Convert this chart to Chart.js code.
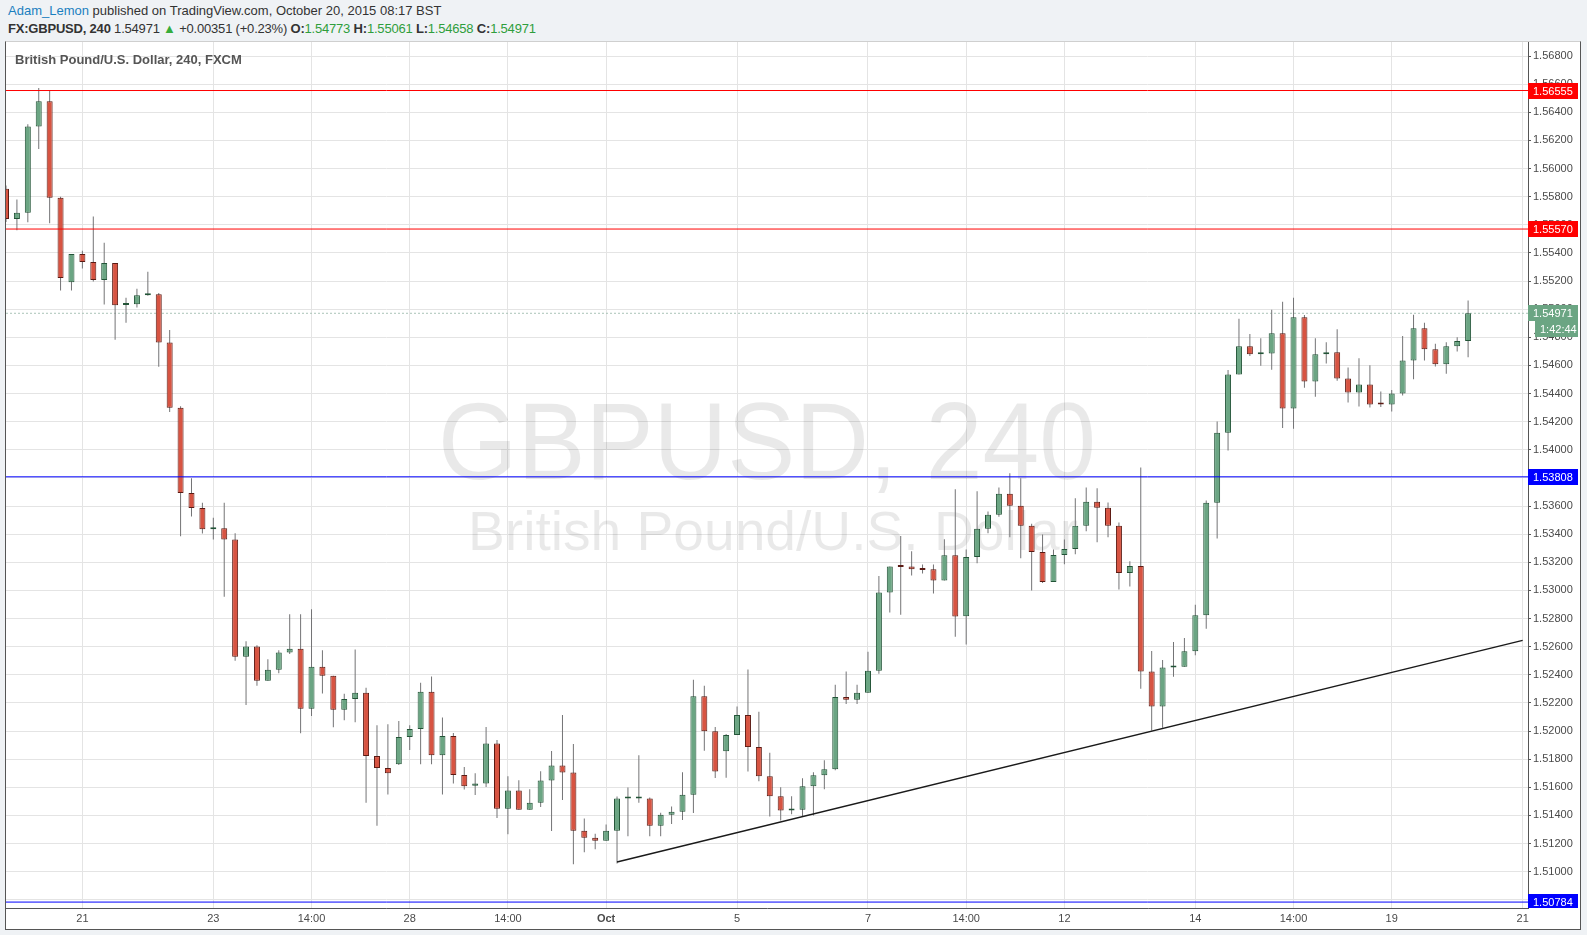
<!DOCTYPE html>
<html>
<head>
<meta charset="utf-8">
<script src="https://cdn.jsdelivr.net/npm/chart.js@4/dist/chart.umd.min.js"></script>
<style>
  html,body{margin:0;padding:0;}
  body{width:1587px;height:935px;overflow:hidden;position:relative;background:#eff2f5;font-family:"Liberation Sans",Arial,sans-serif;}
  .hdr{position:absolute;left:8px;font-size:13px;line-height:16px;color:#333;white-space:nowrap;}
  .g{color:#2f9e3c;}
  #box{position:absolute;left:5px;top:41px;width:1574px;height:887px;background:#fff;border:1px solid #555;border-top-color:#cfcfcf;}
  #c{position:absolute;left:0;top:0;}
</style>
</head>
<body>
<div class="hdr" id="h1" style="top:3px"></div>
<div class="hdr" id="h2" style="top:21px;letter-spacing:-0.2px"></div>
<div id="box"><canvas id="c" width="1574" height="887" style="width:1574px;height:887px"></canvas></div>
<script>
// ---------------- DATA ----------------
const opens = [1.55857,1.55642,1.55685,1.56299,1.56478,1.55792,1.55192,1.55392,1.55335,1.55207,
 1.55328,1.55030,1.55035,1.55100,1.55107,1.54764,1.54300,1.53693,1.53586,1.53436,
 1.53443,1.53362,1.52529,1.52601,1.52358,1.52436,1.52558,1.52586,1.52158,1.52458,
 1.52393,1.52151,1.52229,1.52272,1.51822,1.51737,1.51765,1.51958,1.52015,1.52279,
 1.51829,1.51965,1.51687,1.51612,1.51627,1.51912,1.51448,1.51577,1.51441,1.51491,
 1.51648,1.51755,1.51705,1.51291,1.51241,1.51220,1.51291,1.51520,1.51520,1.51520,
 1.51327,1.51405,1.51427,1.51548,1.52248,1.51998,1.51857,1.51972,1.52114,1.51886,
 1.51679,1.51536,1.51436,1.51441,1.51608,1.51686,1.51729,1.52243,1.52222,1.52272,
 1.52429,1.52986,1.53171,1.53171,1.53150,1.53150,1.53071,1.53250,1.52817,1.53238,
 1.53438,1.53538,1.53688,1.53602,1.53460,1.53274,1.53060,1.53253,1.53295,1.53460,
 1.53631,1.53588,1.53460,1.53124,1.53174,1.52424,1.52174,1.52453,1.52458,1.52567,
 1.52823,1.53623,1.54122,1.54536,1.54736,1.54679,1.54685,1.54829,1.54294,1.54943,
 1.54486,1.54679,1.54694,1.54508,1.54408,1.54465,1.54327,1.54322,1.54401,1.54636,
 1.54865,1.54715,1.54608,1.54736,1.54773];
const highs = [1.55880,1.55780,1.56316,1.56573,1.56559,1.55799,1.55392,1.55416,1.55659,1.55473,
 1.55328,1.55081,1.55145,1.55266,1.55116,1.54852,1.54310,1.53798,1.53624,1.53517,
 1.53624,1.53407,1.52639,1.52610,1.52510,1.52574,1.52831,1.52831,1.52867,1.52574,
 1.52393,1.52265,1.52581,1.52308,1.52041,1.52048,1.52072,1.52041,1.52343,1.52389,
 1.52096,1.51986,1.51744,1.51701,1.52029,1.51936,1.51679,1.51651,1.51586,1.51715,
 1.51858,1.52115,1.51908,1.51379,1.51270,1.51336,1.51534,1.51598,1.51829,1.51527,
 1.51420,1.51463,1.51708,1.52365,1.52322,1.52029,1.51979,1.52174,1.52438,1.52138,
 1.51846,1.51600,1.51536,1.51665,1.51707,1.51793,1.52329,1.52424,1.52329,1.52564,
 1.53102,1.53171,1.53388,1.53278,1.53185,1.53185,1.53364,1.53719,1.53291,1.53705,
 1.53562,1.53733,1.53833,1.53798,1.53474,1.53398,1.53291,1.53362,1.53655,1.53733,
 1.53726,1.53626,1.53483,1.53207,1.53874,1.52569,1.52505,1.52634,1.52662,1.52898,
 1.53639,1.54201,1.54567,1.54932,1.54824,1.54793,1.54996,1.55053,1.55081,1.54958,
 1.54793,1.54765,1.54858,1.54586,1.54651,1.54601,1.54415,1.54425,1.54810,1.54960,
 1.54903,1.54755,1.54765,1.54800,1.55061];
const lows = [1.55620,1.55561,1.55618,1.56140,1.55611,1.55133,1.55133,1.55290,1.55197,1.55033,
 1.54783,1.54904,1.55012,1.55095,1.54590,1.54269,1.53386,1.53526,1.53405,1.53362,
 1.52955,1.52501,1.52186,1.52322,1.52358,1.52412,1.52548,1.51984,1.52108,1.52267,
 1.52027,1.52077,1.52063,1.51491,1.51327,1.51549,1.51758,1.51865,1.51765,1.51765,
 1.51549,1.51627,1.51584,1.51546,1.51603,1.51382,1.51267,1.51441,1.51441,1.51460,
 1.51289,1.51510,1.51053,1.51139,1.51160,1.51220,1.51058,1.51253,1.51491,1.51253,
 1.51253,1.51339,1.51367,1.51417,1.51860,1.51667,1.51669,1.51972,1.51712,1.51643,
 1.51393,1.51365,1.51408,1.51393,1.51400,1.51586,1.51722,1.52193,1.52193,1.52272,
 1.52407,1.52843,1.52828,1.53107,1.53121,1.52978,1.53071,1.52671,1.52615,1.53193,
 1.53407,1.53524,1.53379,1.53229,1.53000,1.53053,1.53060,1.53186,1.53257,1.53421,
 1.53343,1.53379,1.53007,1.53029,1.52301,1.52005,1.52024,1.52386,1.52458,1.52539,
 1.52728,1.53370,1.53996,1.54536,1.54667,1.54598,1.54570,1.54156,1.54149,1.54441,
 1.54377,1.54613,1.54491,1.54337,1.54308,1.54301,1.54304,1.54272,1.54387,1.54501,
 1.54636,1.54593,1.54541,1.54700,1.54658];
const closes = [1.55642,1.55685,1.56299,1.56478,1.55792,1.55221,1.55392,1.55335,1.55207,1.55328,
 1.55028,1.55035,1.55100,1.55108,1.54764,1.54300,1.53693,1.53586,1.53436,1.53440,
 1.53362,1.52529,1.52601,1.52358,1.52436,1.52558,1.52586,1.52158,1.52458,1.52393,
 1.52151,1.52229,1.52272,1.51822,1.51737,1.51701,1.51958,1.52015,1.52279,1.51829,
 1.51965,1.51687,1.51608,1.51627,1.51912,1.51448,1.51577,1.51441,1.51491,1.51648,
 1.51755,1.51705,1.51291,1.51241,1.51220,1.51291,1.51520,1.51524,1.51524,1.51327,
 1.51405,1.51427,1.51548,1.52248,1.51998,1.51712,1.51972,1.52114,1.51886,1.51679,
 1.51536,1.51436,1.51441,1.51608,1.51686,1.51729,1.52243,1.52222,1.52272,1.52429,
 1.52986,1.53171,1.53166,1.53150,1.53145,1.53071,1.53250,1.52814,1.53238,1.53438,
 1.53538,1.53688,1.53602,1.53460,1.53274,1.53060,1.53253,1.53295,1.53460,1.53631,
 1.53588,1.53460,1.53124,1.53174,1.52424,1.52174,1.52453,1.52458,1.52567,1.52823,
 1.53623,1.54122,1.54536,1.54736,1.54679,1.54685,1.54829,1.54294,1.54943,1.54486,
 1.54679,1.54694,1.54508,1.54408,1.54465,1.54322,1.54322,1.54401,1.54636,1.54865,
 1.54715,1.54608,1.54736,1.54773,1.54971];

// x-axis tick positions (candle index) and their labels
const tickIndex  = [7, 19, 28, 37, 46, 55, 67, 79, 88, 97, 109, 118, 127, 139];
const tickLabels = ['21','23','14:00','28','14:00','Oct','5','7','14:00','12','14','14:00','19','21'];

// price axis ticks
const priceTicks = [1.508,1.510,1.512,1.514,1.516,1.518,1.520,1.522,1.524,1.526,1.528,1.530,
 1.532,1.534,1.536,1.538,1.540,1.542,1.544,1.546,1.548,1.550,1.552,1.554,1.556,1.558,
 1.560,1.562,1.564,1.566,1.568];

// horizontal levels
const resistanceLevels = [1.56555, 1.55570];
const supportLevels    = [1.53808, 1.50784];

// trend line (candle index, price)
const trendX = [56, 139];
const trendY = [1.51069, 1.52645];

const lastPrice  = 1.54971;
const countdown  = '1:42:44';
const symbolInfo = 'FX:GBPUSD, 240';
const changeText = '+0.00351 (+0.23%)';
const titleText  = 'British Pound/U.S. Dollar, 240, FXCM';
const wmMain = 'GBPUSD, 240';
const wmSub  = 'British Pound/U.S. Dollar';

// ---------------- HEADER ----------------
const L = opens.length - 1;
document.getElementById('h1').innerHTML =
  '<span style="color:#1a7fc0">Adam_Lemon</span> published on TradingView.com, October 20, 2015 08:17 BST';
document.getElementById('h2').innerHTML =
  '<b>' + symbolInfo + '</b> ' + closes[L].toFixed(5) +
  ' <span style="color:#35ad3c">&#9650;</span> ' + changeText +
  ' <b>O:</b><span class="g">' + opens[L].toFixed(5) + '</span>' +
  ' <b>H:</b><span class="g">' + highs[L].toFixed(5) + '</span>' +
  ' <b>L:</b><span class="g">' + lows[L].toFixed(5) + '</span>' +
  ' <b>C:</b><span class="g">' + closes[L].toFixed(5) + '</span>';

// ---------------- CHART ----------------
const FONT = '"Liberation Sans", Arial, sans-serif';
Chart.defaults.font.family = FONT;

const X_MIN = 0, X_MAX = 139.49;
const up = closes.map((c, i) => c >= opens[i]);

const datasets = [
  {
    type: 'bar', label: 'wicks',
    data: highs.map((h, i) => ({x: i, y: [lows[i], h]})),
    backgroundColor: '#737375', borderWidth: 0, barThickness: 1,
    grouped: false, inflateAmount: 0, order: 3
  },
  {
    type: 'bar', label: 'bodies',
    data: opens.map((o, i) => ({x: i, y: [Math.min(o, closes[i]), Math.max(o, closes[i])]})),
    backgroundColor: up.map(u => u ? '#6ba583' : '#d75442'),
    borderColor: up.map(u => u ? '#225437' : '#5b1a13'),
    borderWidth: 1, borderSkipped: false, barThickness: 6, minBarLength: 2,
    grouped: false, inflateAmount: 0, order: 2
  },
  {
    type: 'line', label: 'last',
    data: [{x: X_MIN, y: lastPrice}, {x: X_MAX, y: lastPrice}],
    borderColor: '#aac3b8', borderWidth: 1, borderDash: [2, 2], pointRadius: 0, order: 4
  }
];
resistanceLevels.forEach(v => datasets.push({
  type: 'line', data: [{x: X_MIN, y: v}, {x: X_MAX, y: v}],
  borderColor: '#ff0000', borderWidth: 1, pointRadius: 0, order: 1
}));
supportLevels.forEach(v => datasets.push({
  type: 'line', data: [{x: X_MIN, y: v}, {x: X_MAX, y: v}],
  borderColor: '#0000ff', borderWidth: 1, pointRadius: 0, order: 1
}));
datasets.push({
  type: 'line', data: trendX.map((x, i) => ({x: x, y: trendY[i]})),
  borderColor: '#1a1a1a', borderWidth: 1.5, pointRadius: 0, order: 0
});

const deco = {
  id: 'deco',
  beforeDatasetsDraw(chart) {
    const {ctx, chartArea: a} = chart;
    const cx = (a.left + a.right) / 2;
    ctx.save();
    ctx.fillStyle = 'rgba(0,0,0,0.085)';
    ctx.textAlign = 'center';
    ctx.textBaseline = 'middle';
    ctx.font = '110px ' + FONT;
    let w = ctx.measureText(wmMain).width;
    ctx.save();
    ctx.translate(cx, 407);
    ctx.scale(658 / w, 1);
    ctx.fillText(wmMain, 0, 0);
    ctx.restore();
    ctx.font = '56px ' + FONT;
    w = ctx.measureText(wmSub).width;
    ctx.save();
    ctx.translate(cx + 6, 493);
    ctx.scale(610 / w, 1);
    ctx.fillText(wmSub, 0, 0);
    ctx.restore();
    ctx.restore();
  },
  afterDraw(chart) {
    const {ctx, chartArea: a} = chart;
    const yS = chart.scales.y;
    ctx.save();
    // title
    ctx.fillStyle = '#555';
    ctx.font = 'bold 13px ' + FONT;
    ctx.textAlign = 'left';
    ctx.textBaseline = 'middle';
    ctx.fillText(titleText, 9, 18);
    // clip tags to the axis column
    ctx.beginPath();
    ctx.rect(a.right, a.top, chart.width - a.right, a.bottom - a.top);
    ctx.clip();
    const tag = (v, color, text, left, width, dy) => {
      const y = Math.round(yS.getPixelForValue(v)) + dy;
      ctx.fillStyle = color;
      ctx.fillRect(left, y - 8, width, 16);
      ctx.fillStyle = '#fff';
      ctx.font = '11px ' + FONT;
      ctx.textAlign = 'left';
      ctx.textBaseline = 'middle';
      ctx.fillText(text, left + 5, y + 0.5);
    };
    resistanceLevels.forEach(v => tag(v, '#ff0000', v.toFixed(5), a.right, 50, 0));
    supportLevels.forEach(v => tag(v, '#0000ff', v.toFixed(5), a.right, 50, 0));
    tag(lastPrice, '#6ba583', lastPrice.toFixed(5), a.right, 50, 0);
    tag(lastPrice, '#6ba583', countdown, a.right + 7, 43, 16);
    ctx.restore();
  }
};

new Chart(document.getElementById('c'), {
  type: 'bar',
  data: {datasets: datasets},
  plugins: [deco],
  options: {
    responsive: false,
    devicePixelRatio: 1,
    animation: false,
    events: [],
    layout: {padding: 0},
    plugins: {legend: {display: false}, tooltip: {enabled: false}},
    scales: {
      x: {
        type: 'linear', min: X_MIN, max: X_MAX, offset: false,
        grid: {color: '#e4e4e4', drawTicks: false, offset: false},
        border: {color: '#555', width: 1},
        afterBuildTicks: s => { s.ticks = tickIndex.map(v => ({value: v})); },
        afterFit: s => { s.height = 21; s.paddingLeft = 0; s.paddingRight = 0; },
        ticks: {
          autoSkip: false, maxRotation: 0, minRotation: 0, padding: 4, color: '#4a4a4a',
          font: c => ({size: 11, weight: tickLabels[c.index] === 'Oct' ? 'bold' : 'normal'}),
          callback: v => { const k = tickIndex.indexOf(v); return k >= 0 ? tickLabels[k] : ''; }
        }
      },
      y: {
        type: 'linear', position: 'right', min: 1.50742, max: 1.56900,
        grid: {color: '#e4e4e4', tickColor: '#555', tickLength: 3},
        border: {color: '#555', width: 1},
        afterBuildTicks: s => { s.ticks = priceTicks.map(v => ({value: v})); },
        afterFit: s => { s.width = 52; s.paddingTop = 0; s.paddingBottom = 0; },
        ticks: {padding: 2, color: '#4a4a4a', font: {size: 11}, callback: v => Number(v).toFixed(5)}
      }
    }
  }
});
</script>
</body>
</html>
